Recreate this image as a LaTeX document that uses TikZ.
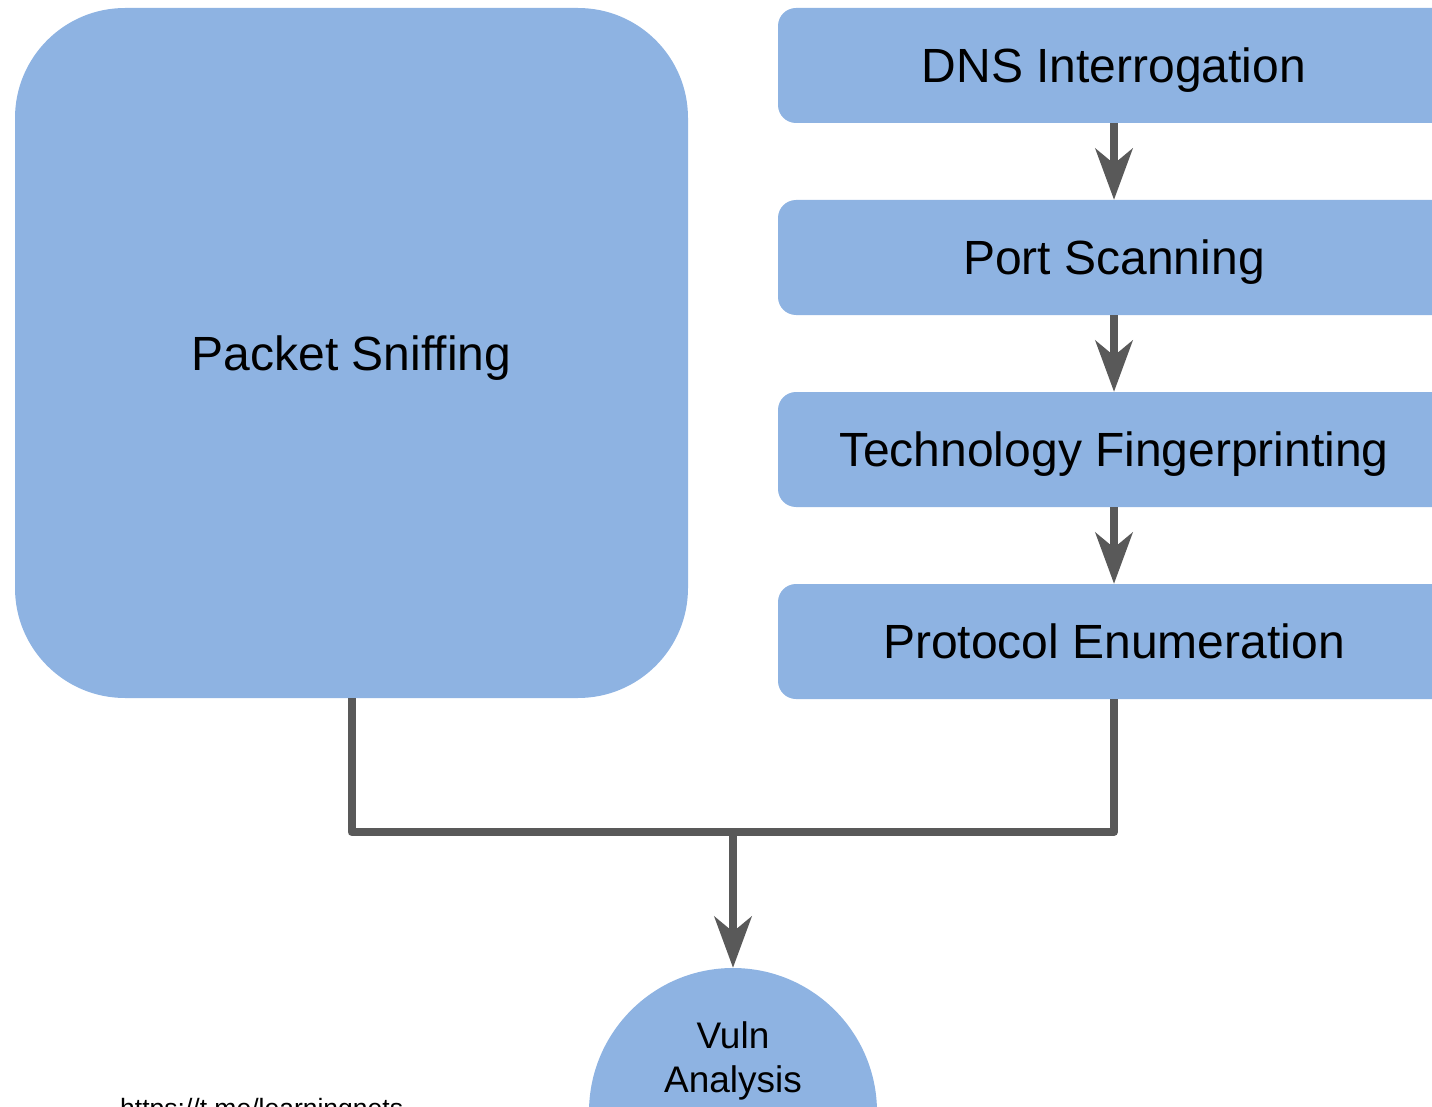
\documentclass[tikz,border=0pt]{standalone}
\usepackage{fontspec}
\setmainfont{Liberation Sans}
\usetikzlibrary{arrows.meta}
\definecolor{boxblue}{HTML}{8EB3E2}
\definecolor{linkgray}{HTML}{595959}
\begin{document}
\begin{tikzpicture}[x=1pt,y=-1pt,
  bigtext/.style={font=\fontsize{48}{58}\selectfont, text height=34.5pt, text depth=0pt},
  stepbox/.style={bigtext, fill=boxblue, rounded corners=18pt, minimum width=672pt,
    minimum height=115pt, inner sep=0pt},
  bigbox/.style={bigtext, fill=boxblue, rounded corners=110pt, minimum width=673pt,
    minimum height=690pt, inner sep=0pt},
  link/.style={draw=linkgray, line width=8pt, line join=round},
  flow/.style={link, -{Stealth[length=51pt,width=37pt,inset=15pt]}}
]
\path[use as bounding box] (0,0) rectangle (1432,1107);
\clip (0,0) rectangle (1432,1107);

% left block
\node[bigbox] (sniff) at (351.5,353) {Packet Sniffing};

% right column of stages
\node[stepbox] (dns)   at (1114,65.5)  {DNS Interrogation};
\node[stepbox] (port)  at (1114,257.5) {Port Scanning};
\node[stepbox] (tech)  at (1114,449.5) {Technology Fingerprinting};
\node[stepbox] (proto) at (1114,641.5) {Protocol Enumeration};

% final stage
\node[circle, fill=boxblue, minimum size=288pt, inner sep=0pt] (vuln) at (733,1112) {};
\node[align=center, font=\fontsize{37}{44}\selectfont] (vulntext) at (733,1061) {Vuln\\Analysis};

% arrows between stages
\draw[flow] (dns.south) -- (port.north);
\draw[flow] (port.south) -- (tech.north);
\draw[flow] (tech.south) -- (proto.north);

% merge into the final stage
\coordinate (join) at (733,832);
\draw[link] (sniff.south) |- (join) -| (proto.south);
\draw[flow] (join) -- (vuln.north);

% footer link
\node[anchor=north west, inner sep=0pt, font=\fontsize{26.5}{30}\selectfont] (url) at (120,1098) {https://t.me/learningnets};
\end{tikzpicture}
\end{document}
